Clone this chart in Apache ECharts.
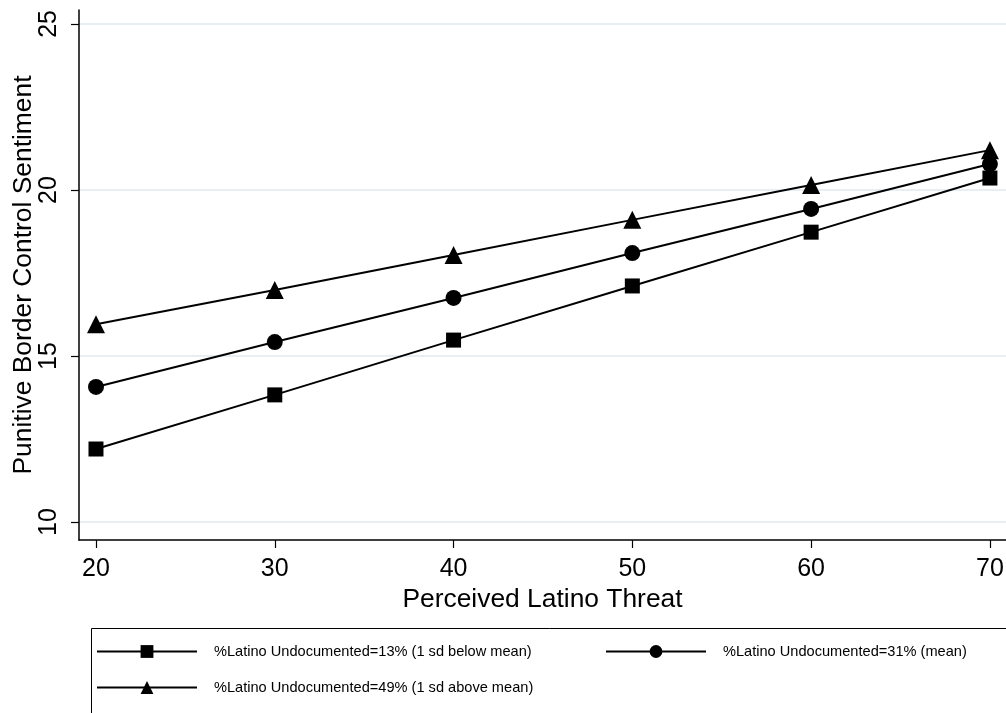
<!DOCTYPE html>
<html>
<head>
<meta charset="utf-8">
<script src="https://cdn.jsdelivr.net/npm/echarts@6/dist/echarts.min.js"></script>
<style>html,body{margin:0;padding:0;background:#fff}#c{width:1006px;height:713px}</style>
</head>
<body>
<div id="c"></div>
<script>
const threat = [20, 30, 40, 50, 60, 70];
const xTicks = [20, 30, 40, 50, 60, 70];
const yTicks = [10, 15, 20, 25];
const below = [12.20, 13.83, 15.48, 17.11, 18.73, 20.36];
const meanVals = [14.07, 15.42, 16.75, 18.10, 19.43, 20.78];
const above = [15.96, 16.99, 18.04, 19.10, 20.15, 21.20];
const names = [
  '%Latino Undocumented=13% (1 sd below mean)',
  '%Latino Undocumented=31% (mean)',
  '%Latino Undocumented=49% (1 sd above mean)'
];
const FONT = 'Liberation Sans, Arial, Helvetica, sans-serif';

function pairs(ys) { return threat.map((x, i) => [x, ys[i]]); }
function mk(name, ys, symbol, size) {
  return {
    name, type: 'line', data: pairs(ys), symbol, symbolSize: size,
    lineStyle: { color: '#000', width: 2 },
    itemStyle: { color: '#000' },
    showAllSymbol: true, animation: false
  };
}

const chart = echarts.init(document.getElementById('c'), null, { renderer: 'canvas' });
const legendCommon = {
  orient: 'vertical', padding: 0, itemWidth: 100, itemHeight: 16, itemGap: 21,
  textStyle: { fontFamily: FONT, fontSize: 14.6, color: '#000', padding: [0, 0, 0, 12] }
};
chart.setOption({
  backgroundColor: '#fff',
  animation: false,
  grid: { left: 79, right: 0, top: 10, bottom: 173, containLabel: false, outerBoundsMode: 'none' },
  xAxis: {
    type: 'value', min: 19.05, max: 70.9,
    name: 'Perceived Latino Threat', nameLocation: 'middle', nameGap: 47, nameMoveOverlap: false,
    nameTextStyle: { fontFamily: FONT, fontSize: 26.4, color: '#000' },
    axisLine: { show: true, lineStyle: { color: '#000', width: 1.5 } },
    axisTick: { show: true, length: 8, customValues: xTicks, lineStyle: { color: '#000', width: 1.2 } },
    axisLabel: { customValues: xTicks, fontFamily: FONT, fontSize: 25, color: '#000', margin: 17, hideOverlap: false },
    splitLine: { show: false }
  },
  yAxis: {
    type: 'value', min: 9.46, max: 25.42,
    name: 'Punitive Border Control Sentiment', nameLocation: 'middle', nameGap: 42, nameMoveOverlap: false,
    nameTextStyle: { fontFamily: FONT, fontSize: 26.4, color: '#000' },
    axisLine: { show: true, lineStyle: { color: '#000', width: 1.5 } },
    axisTick: { show: true, length: 8, customValues: yTicks, lineStyle: { color: '#000', width: 1.2 } },
    axisLabel: { customValues: yTicks, rotate: 90, fontFamily: FONT, fontSize: 25, color: '#000', margin: 17, hideOverlap: false },
    splitLine: { show: true, lineStyle: { color: '#e8eff3', width: 2 } }
  },
  legend: [
    Object.assign({}, legendCommon, { left: 96, top: 644, data: [names[0], names[2]] }),
    Object.assign({}, legendCommon, { left: 605, top: 644, data: [names[1]] })
  ],
  graphic: [{
    type: 'rect', left: 89, top: 626,
    shape: { width: 930, height: 100 },
    style: { fill: 'none', stroke: '#000', lineWidth: 1 }, silent: true
  }],
  series: [
    mk(names[0], below, 'rect', 15),
    mk(names[1], meanVals, 'circle', 16),
    mk(names[2], above, 'triangle', 18)
  ]
});
</script>
</body>
</html>
